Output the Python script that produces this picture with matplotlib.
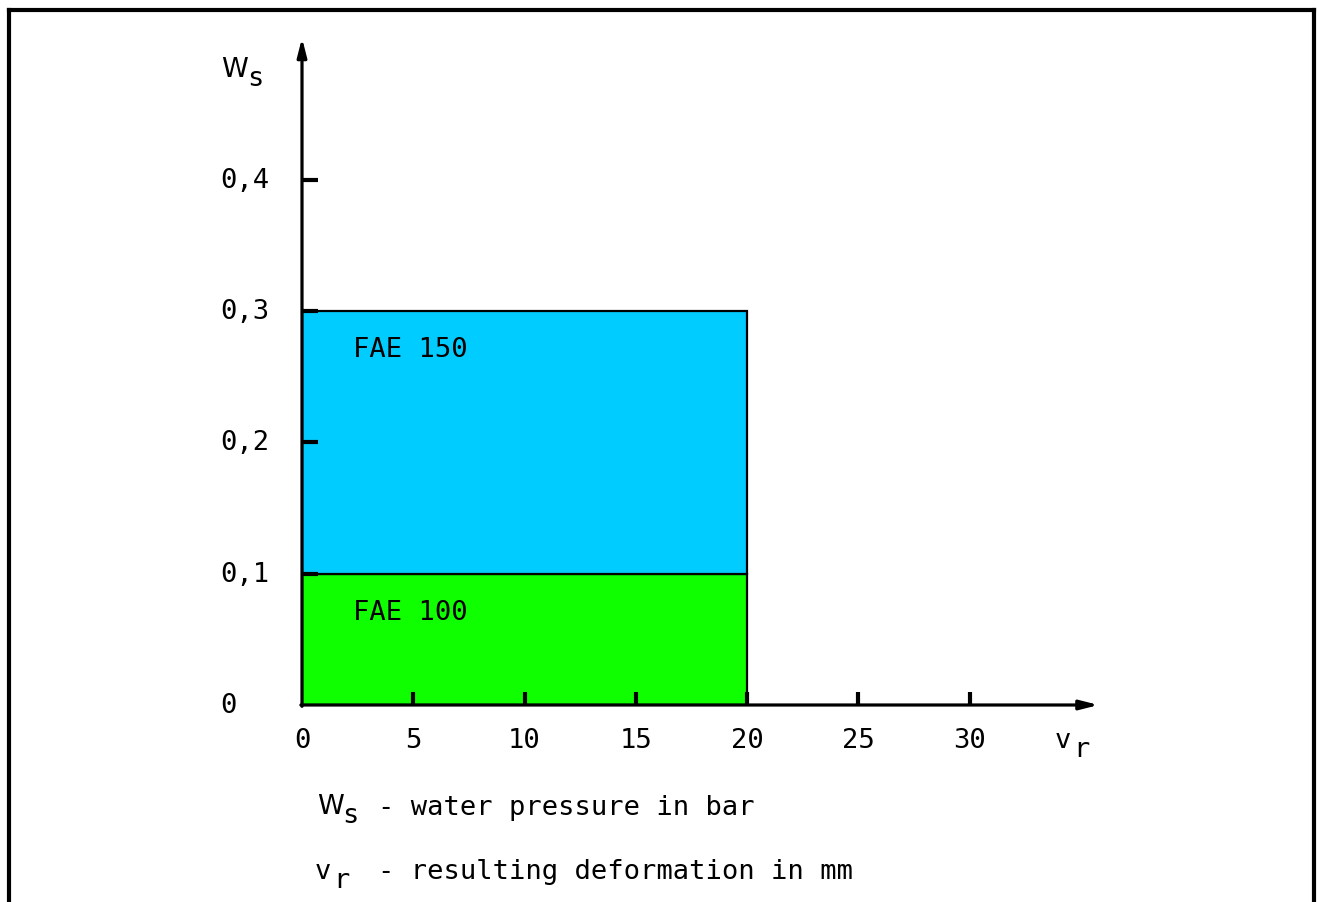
import matplotlib.pyplot as plt
from matplotlib.patches import Rectangle
from matplotlib.lines import Line2D

# data
x_ticks = [5, 10, 15, 20, 25, 30]
x_labels = ['0', '5', '10', '15', '20', '25', '30']
y_ticks = [0.1, 0.2, 0.3, 0.4]
y_labels = ['0', '0,1', '0,2', '0,3', '0,4']
bands = ['FAE 100', 'FAE 150']
band_low = [0.0, 0.1]
band_high = [0.1, 0.3]
band_colors = ['#10FF00', '#00CCFF']
v_max = 20

plt.rcParams['font.family'] = ['DejaVu Sans Mono']

W, H = 1319, 903
fig = plt.figure(figsize=(W / 100, H / 100), dpi=100)
fs = 19.5


def sub_label(xp, yp, main, sub, gap, fam='DejaVu Sans Mono'):
    # symbol with a full-size, lowered subscript, placed in pixels
    fig.text(xp / W, 1 - yp / H, main, fontsize=fs, ha='left', va='center', family=fam)
    fig.text((xp + gap) / W, 1 - (yp + 9) / H, sub, fontsize=fs, ha='left', va='center')


x0, y0 = 302, 706
px_x = 22.25
px_y = 1313.0
xmax = 36
ymax = (y0 - 35) / px_y
ax = fig.add_axes([x0 / W, (H - y0) / H, xmax * px_x / W, ymax * px_y / H])
ax.set_xlim(0, xmax)
ax.set_ylim(0, ymax)
ax.axis('off')

# bands
for name, lo, hi, col in zip(bands, band_low, band_high, band_colors):
    ax.add_patch(Rectangle((0, lo), v_max, hi - lo, facecolor=col,
                           edgecolor='black', lw=1.6, zorder=1))
    ax.text(2.3, hi - 0.029, name, fontsize=fs, va='center', ha='left')

# axes with arrows
arrow = dict(arrowstyle='-|>,head_length=1.1,head_width=0.28',
             lw=2.3, color='black', shrinkA=0, shrinkB=0)
ax.annotate('', xy=(xmax - 0.2, 0), xytext=(-0.05, 0), arrowprops=arrow, zorder=3)
ax.annotate('', xy=(0, ymax - 0.003), xytext=(0, -0.001), arrowprops=arrow, zorder=3)

# ticks
for t in x_ticks:
    ax.plot([t, t], [0, 13 / px_y], color='black', lw=3, solid_capstyle='butt', zorder=3)
for t in y_ticks:
    ax.plot([0, 16 / px_x], [t, t], color='black', lw=3, solid_capstyle='butt', zorder=3)

# tick labels
for i, lab in enumerate(x_labels):
    ax.text(i * 5, -35 / px_y, lab, fontsize=fs, ha='center', va='center')
for i, lab in enumerate(y_labels):
    ax.text(-82 / px_x, i * 0.1, lab, fontsize=fs, ha='left', va='center')

# axis names
sub_label(221, 70, 'W', 's', 26, fam='DejaVu Sans')
sub_label(1055, 741, 'v', 'r', 18)

# legend lines
sub_label(317, 807, 'W', 's', 25, fam='DejaVu Sans')
fig.text(378 / W, 1 - 808 / H, '- water pressure in bar', fontsize=fs, ha='left', va='center')
sub_label(315, 872, 'v', 'r', 18)
fig.text(378 / W, 1 - 872 / H, '- resulting deformation in mm', fontsize=fs, ha='left', va='center')

# frame
lw_frame = 3.0
fig.add_artist(Line2D([9 / W, 9 / W], [0, 1 - 11 / H], color='black', lw=lw_frame))
fig.add_artist(Line2D([9 / W, 1314 / W], [1 - 11 / H, 1 - 11 / H], color='black', lw=lw_frame))
fig.add_artist(Line2D([1314 / W, 1314 / W], [0, 1 - 11 / H], color='black', lw=lw_frame))

fig.savefig('out.png', dpi=100)
